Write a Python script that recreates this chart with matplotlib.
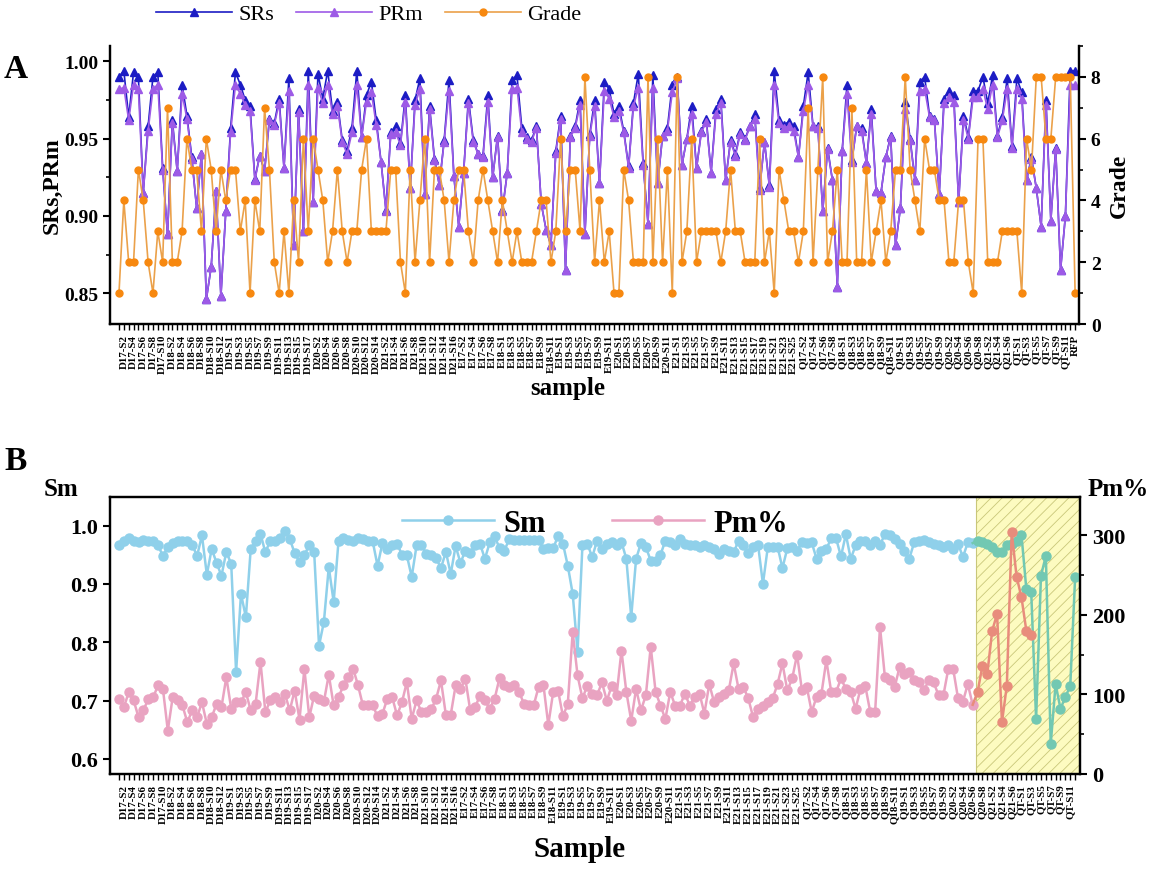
import numpy as np
import matplotlib
matplotlib.use('Agg')
import matplotlib.pyplot as plt
from matplotlib.ticker import MultipleLocator, FormatStrFormatter

plt.rcParams['font.family'] = ['Liberation Serif', 'DejaVu Serif']
plt.rcParams['font.weight'] = 'bold'
plt.rcParams['hatch.linewidth'] = 0.6

# sample groups and how many samples each holds
groups = ['D17', 'D18', 'D19', 'D20', 'D21', 'E17', 'E18', 'E19', 'E20', 'E21',
          'Q17', 'Q18', 'Q19', 'Q20', 'Q21', 'QT']
group_sizes = [10, 13, 17, 14, 16, 9, 12, 12, 12, 25, 9, 12, 9, 8, 7, 12]
samples = [f'{g}-S{k}' for g, n in zip(groups, group_sizes) for k in range(1, n + 1)] + ['RFP']

# panel A
srs = [0.990, 0.994, 0.964, 0.993, 0.990, 0.915, 0.958, 0.990, 0.993, 0.931,
       0.888, 0.962, 0.929, 0.985, 0.965, 0.938, 0.905, 0.940, 0.846, 0.867,
       0.916, 0.848, 0.903, 0.957, 0.993, 0.985, 0.975, 0.971, 0.924, 0.939,
       0.929, 0.963, 0.960, 0.976, 0.931, 0.989, 0.881, 0.969, 0.890, 0.994,
       0.909, 0.992, 0.976, 0.994, 0.968, 0.974, 0.949, 0.942, 0.957, 0.994,
       0.951, 0.978, 0.987, 0.962, 0.935, 0.904, 0.954, 0.958, 0.947, 0.978,
       0.918, 0.975, 0.989, 0.914, 0.971, 0.937, 0.920, 0.949, 0.988, 0.926,
       0.893, 0.928, 0.976, 0.949, 0.940, 0.939, 0.978, 0.925, 0.952, 0.904,
       0.928, 0.988, 0.991, 0.957, 0.951, 0.949, 0.958, 0.908, 0.891, 0.881,
       0.942, 0.965, 0.865, 0.952, 0.958, 0.975, 0.888, 0.953, 0.975, 0.921,
       0.987, 0.982, 0.966, 0.971, 0.955, 0.932, 0.973, 0.992, 0.934, 0.895,
       0.991, 0.921, 0.952, 0.957, 0.985, 0.990, 0.933, 0.950, 0.971, 0.931,
       0.955, 0.963, 0.928, 0.969, 0.976, 0.923, 0.949, 0.940, 0.954, 0.950,
       0.958, 0.966, 0.918, 0.948, 0.920, 0.994, 0.962, 0.959, 0.961, 0.958,
       0.938, 0.971, 0.993, 0.958, 0.958, 0.903, 0.944, 0.923, 0.854, 0.942,
       0.985, 0.936, 0.958, 0.957, 0.934, 0.969, 0.916, 0.915, 0.938, 0.952,
       0.881, 0.905, 0.974, 0.950, 0.923, 0.987, 0.990, 0.965, 0.963, 0.914,
       0.976, 0.981, 0.978, 0.909, 0.965, 0.951, 0.981, 0.981, 0.990, 0.973,
       0.991, 0.952, 0.964, 0.989, 0.945, 0.989, 0.980, 0.923, 0.938, 0.918,
       0.893, 0.975, 0.897, 0.944, 0.865, 0.900, 0.994, 0.994]
prm = [0.982, 0.983, 0.962, 0.985, 0.982, 0.915, 0.955, 0.982, 0.985, 0.930,
       0.888, 0.960, 0.929, 0.979, 0.963, 0.937, 0.905, 0.940, 0.846, 0.867,
       0.916, 0.848, 0.903, 0.954, 0.985, 0.979, 0.972, 0.968, 0.923, 0.939,
       0.929, 0.962, 0.959, 0.973, 0.931, 0.981, 0.881, 0.967, 0.890, 0.985,
       0.909, 0.983, 0.973, 0.985, 0.966, 0.971, 0.948, 0.940, 0.954, 0.985,
       0.951, 0.974, 0.980, 0.959, 0.935, 0.903, 0.953, 0.954, 0.946, 0.974,
       0.918, 0.972, 0.982, 0.914, 0.969, 0.936, 0.920, 0.948, 0.981, 0.926,
       0.893, 0.928, 0.973, 0.948, 0.940, 0.938, 0.974, 0.925, 0.951, 0.903,
       0.928, 0.982, 0.983, 0.954, 0.950, 0.948, 0.957, 0.908, 0.891, 0.881,
       0.941, 0.963, 0.865, 0.951, 0.957, 0.972, 0.888, 0.952, 0.971, 0.921,
       0.981, 0.976, 0.964, 0.968, 0.954, 0.931, 0.971, 0.983, 0.933, 0.895,
       0.983, 0.921, 0.952, 0.955, 0.980, 0.989, 0.933, 0.950, 0.966, 0.931,
       0.954, 0.961, 0.928, 0.966, 0.973, 0.923, 0.948, 0.939, 0.953, 0.949,
       0.958, 0.963, 0.917, 0.948, 0.919, 0.985, 0.960, 0.957, 0.958, 0.955,
       0.938, 0.968, 0.985, 0.958, 0.957, 0.903, 0.943, 0.923, 0.854, 0.942,
       0.979, 0.935, 0.958, 0.955, 0.934, 0.966, 0.916, 0.915, 0.938, 0.951,
       0.881, 0.905, 0.969, 0.949, 0.923, 0.981, 0.982, 0.964, 0.962, 0.914,
       0.973, 0.977, 0.974, 0.909, 0.962, 0.950, 0.977, 0.977, 0.982, 0.969,
       0.985, 0.951, 0.962, 0.982, 0.944, 0.982, 0.976, 0.923, 0.937, 0.918,
       0.893, 0.972, 0.897, 0.943, 0.865, 0.900, 0.985, 0.985]
grade = [1, 4, 2, 2, 5, 4, 2, 1, 3, 2,
         7, 2, 2, 3, 6, 5, 5, 3, 6, 5,
         3, 5, 4, 5, 5, 3, 4, 1, 4, 3,
         7, 5, 2, 1, 3, 1, 4, 2, 6, 3,
         6, 5, 4, 2, 3, 5, 3, 2, 3, 3,
         5, 6, 3, 3, 3, 3, 5, 5, 2, 1,
         5, 2, 4, 6, 2, 5, 5, 4, 2, 4,
         5, 5, 3, 2, 4, 5, 4, 3, 2, 4,
         3, 2, 3, 2, 2, 2, 3, 4, 4, 2,
         3, 6, 3, 5, 5, 3, 8, 5, 2, 4,
         2, 3, 1, 1, 5, 4, 2, 2, 2, 8,
         2, 6, 2, 5, 1, 8, 2, 3, 6, 2,
         3, 3, 3, 3, 2, 3, 5, 3, 3, 2,
         2, 2, 6, 2, 3, 1, 5, 4, 3, 3,
         2, 3, 7, 2, 5, 8, 2, 3, 5, 2,
         2, 7, 2, 2, 5, 2, 3, 4, 2, 3,
         5, 5, 8, 5, 4, 3, 6, 5, 5, 4,
         4, 2, 2, 4, 4, 2, 1, 6, 6, 2,
         2, 2, 3, 3, 3, 3, 1, 6, 5, 8,
         8, 6, 6, 8, 8, 8, 8, 1]

# panel B (no RFP)
sm = [0.967, 0.974, 0.978, 0.974, 0.971, 0.975, 0.974, 0.973, 0.966, 0.948,
      0.963, 0.970, 0.973, 0.973, 0.974, 0.967, 0.948, 0.983, 0.916, 0.960,
      0.936, 0.914, 0.955, 0.934, 0.749, 0.883, 0.843, 0.960, 0.973, 0.986,
      0.954, 0.974, 0.974, 0.978, 0.990, 0.977, 0.953, 0.938, 0.950, 0.966,
      0.955, 0.794, 0.835, 0.929, 0.869, 0.974, 0.978, 0.976, 0.974, 0.978,
      0.977, 0.974, 0.973, 0.931, 0.970, 0.960, 0.966, 0.969, 0.950, 0.949,
      0.912, 0.966, 0.966, 0.952, 0.949, 0.944, 0.927, 0.955, 0.917, 0.965,
      0.936, 0.957, 0.953, 0.966, 0.969, 0.943, 0.971, 0.982, 0.961, 0.957,
      0.977, 0.975, 0.975, 0.975, 0.975, 0.975, 0.975, 0.960, 0.961, 0.961,
      0.982, 0.969, 0.931, 0.883, 0.784,
      0.966, 0.969, 0.946, 0.974, 0.960, 0.969, 0.971, 0.967, 0.972, 0.943,
      0.843, 0.943, 0.970, 0.963, 0.940, 0.940, 0.950, 0.974, 0.971, 0.967,
      0.977, 0.969, 0.966, 0.966, 0.963, 0.967, 0.963, 0.960, 0.952, 0.960,
      0.957, 0.954, 0.974, 0.966, 0.953, 0.963, 0.967, 0.900, 0.963, 0.963,
      0.964, 0.927, 0.961, 0.963, 0.957, 0.971, 0.970, 0.971, 0.943, 0.957,
      0.960, 0.978, 0.978, 0.947, 0.985, 0.943, 0.966, 0.974, 0.974, 0.966,
      0.974, 0.967, 0.985, 0.983, 0.977, 0.969, 0.957, 0.943, 0.971, 0.974,
      0.975, 0.971, 0.969, 0.966, 0.963, 0.966, 0.960, 0.969, 0.946, 0.971, 0.970,
      0.974, 0.972, 0.969, 0.963, 0.955, 0.955, 0.966, 0.969, 0.974, 0.984, 0.891,
      0.886, 0.668, 0.914, 0.948, 0.626, 0.728, 0.686, 0.706, 0.725, 0.911]
pm = [94.5, 84, 102.8, 92.4, 71.3, 79.8, 94.5, 96.5, 111.2, 107,
      54.6, 96.5, 92.4, 86.1, 65.1, 79.8, 71.3, 90.2, 63, 71.3,
      88.2, 84, 121.7, 81.9, 90.2, 90.2, 102.8, 79.8, 88.2, 140.7,
      77.7, 92.4, 96.5, 90.2, 100.8, 79.8, 104.9, 68.4, 132.2, 71.3,
      98.6, 94.5, 91.1, 124.7, 86.1, 96.5, 111.2, 121.7, 132.2, 111.2,
      86.1, 86.1, 86.1, 72.6, 75.6, 94.5, 96.5, 73.5, 90.2, 115.4,
      69.3, 92.4, 77.7, 77.7, 81.1, 94.5, 117.5, 74.3, 74.3, 111.2,
      107, 119.6, 79.8, 84, 98.6, 92.4, 81.9, 94.5, 120.5, 111.2,
      109.1, 111.2, 103.6, 88.2, 86.9, 86.1, 109.1, 112.1, 61.7, 102.8,
      104.9, 72.6, 88.2, 178.4, 123.8,
      95, 111, 101, 99, 115, 92, 111, 99, 155, 103,
      67, 107, 80, 99, 160, 103, 86, 69, 103, 86,
      86, 101, 86, 97, 101, 76, 113, 90, 97, 101,
      105, 139, 107, 109, 95, 71, 82, 86, 90, 95,
      113, 139, 105, 120, 150, 105, 109, 78, 97, 101,
      143, 103, 103, 120, 107, 103, 82, 107, 110, 78,
      78, 185, 122, 118, 109, 134, 126, 128, 118, 116,
      105, 118, 115, 99, 99, 132, 132, 95, 91, 113, 87,
      103, 136, 126, 180, 201, 65, 111, 304, 248, 222, 180, 175,
      np.nan, np.nan, np.nan, np.nan, np.nan, np.nan, np.nan, np.nan, np.nan]
shade_start = 175.6

W, H = 1172, 870
fig = plt.figure(figsize=(W / 100, H / 100), dpi=100)


def fx(px):
    return px / W


def fy(py):
    return 1 - py / H


def style_xticks(ax, labels):
    ax.set_xticks(np.arange(len(labels)))
    ax.set_xticklabels([s if i % 2 == 1 else '' for i, s in enumerate(labels)],
                       rotation=90, fontsize=7.8, fontweight='bold')
    ax.tick_params(axis='x', direction='out', length=4, width=1.0, pad=3)


# ---------------- panel A ----------------
ax1 = fig.add_axes([fx(110), fy(325), fx(969), 278 / H])
xa = np.arange(len(samples))
l1, = ax1.plot(xa, srs, '-^', color='#1c1cc4', lw=1.2, ms=5.5, label='SRs')
l2, = ax1.plot(xa, prm, '-^', color='#9d5ae6', lw=1.2, ms=5.5, label='PRm')
ax1.set_xlim(-1.85, 197.8)
ax1.set_ylim(0.83, 1.01)
ax1.set_yticks([0.85, 0.90, 0.95, 1.00])
ax1.yaxis.set_major_formatter(FormatStrFormatter('%.2f'))
ax1.yaxis.set_minor_locator(MultipleLocator(0.025))
style_xticks(ax1, samples)

ax1r = ax1.twinx()
l3, = ax1r.plot(xa, grade, '-o', color='#eba14a', mfc='#f7880f', mec='#f7880f',
                lw=1.2, ms=5, label='Grade')
ax1r.set_ylim(0, 9)
ax1r.set_yticks([0, 2, 4, 6, 8])
ax1r.yaxis.set_minor_locator(MultipleLocator(1))

for a in (ax1, ax1r):
    a.spines['top'].set_visible(False)
    for s in ('left', 'right', 'bottom'):
        a.spines[s].set_linewidth(1.6)
    a.tick_params(axis='y', which='major', direction='out', length=5, width=1.5, labelsize=14)
    a.tick_params(axis='y', which='minor', direction='out', length=3, width=1.2)

ax1.set_ylabel('SRs,PRm', fontsize=17, fontweight='bold', labelpad=1)
ax1r.set_ylabel('Grade', fontsize=17, fontweight='bold', labelpad=6)
fig.text(fx(568), fy(388), 'sample', fontsize=18, fontweight='bold', ha='center', va='center')

fig.legend(handles=[l1, l2, l3], loc='center left', bbox_to_anchor=(fx(136), fy(15)),
           ncol=3, frameon=False, handlelength=3.4, columnspacing=1.0, handletextpad=0.3,
           prop={'family': 'Liberation Serif', 'size': 16, 'weight': 'normal'})
fig.text(fx(4), fy(70), 'A', fontsize=24, fontweight='bold', va='center')

# ---------------- panel B ----------------
ax2 = fig.add_axes([fx(110), fy(775), fx(970), 277 / H])
samples_b = samples[:len(sm)]
xb = np.arange(len(samples_b))
sm_a = np.array(sm)
pm_a = np.array(pm, dtype=float)
cut = int(np.ceil(shade_start))

ax2.axvspan(shade_start, 197.0, facecolor='#fdfbc0', edgecolor='#c9c77a', hatch='///',
            lw=0.8, zorder=0)
h1, = ax2.plot(xb[:cut], sm_a[:cut], '-o', color='#8fd0ea', lw=1.8, ms=6.5, zorder=3, label='Sm')
ax2.plot(xb[cut - 1:], sm_a[cut - 1:], '-o', color='#72c8b2', lw=1.8, ms=6.5, zorder=3,
         markevery=list(range(1, len(sm) - cut + 1)))
ax2.set_xlim(-1.85, 197.0)
ax2.set_ylim(0.574, 1.049)
ax2.set_yticks([0.6, 0.7, 0.8, 0.9, 1.0])
ax2.yaxis.set_major_formatter(FormatStrFormatter('%.1f'))
style_xticks(ax2, samples_b)

ax2r = ax2.twinx()
h2, = ax2r.plot(xb[:cut], pm_a[:cut], '-o', color='#e9a3c1', lw=1.8, ms=6.5, zorder=3, label='Pm%')
ax2r.plot(xb[cut - 1:], pm_a[cut - 1:], '-o', color='#e88c7c', lw=1.8, ms=6.5, zorder=3,
          markevery=list(range(1, len(pm) - cut + 1)))
ax2r.set_ylim(0, 348)
ax2r.set_yticks([0, 100, 200, 300])
ax2r.yaxis.set_minor_locator(MultipleLocator(50))

for a in (ax2, ax2r):
    for s in ax2.spines:
        a.spines[s].set_linewidth(1.6)
    a.tick_params(axis='y', which='major', direction='out', length=5, width=1.5, labelsize=16)
    a.tick_params(axis='y', which='minor', direction='out', length=3, width=1.2)

ax2r.legend(handles=[h1, h2], loc='center', bbox_to_anchor=(0.50, 0.905), ncol=2,
            frameon=False, handlelength=3.0, columnspacing=2.2, handletextpad=0.3,
            prop={'family': 'Liberation Serif', 'size': 22, 'weight': 'bold'})
fig.text(fx(44), fy(490), 'Sm', fontsize=18, fontweight='bold', va='center')
fig.text(fx(1088), fy(490), 'Pm%', fontsize=18, fontweight='bold', va='center')
fig.text(fx(580), fy(850), 'Sample', fontsize=21, fontweight='bold', ha='center', va='center')
fig.text(fx(4), fy(462), 'B', fontsize=24, fontweight='bold', va='center')

fig.savefig('out.png', dpi=100)
